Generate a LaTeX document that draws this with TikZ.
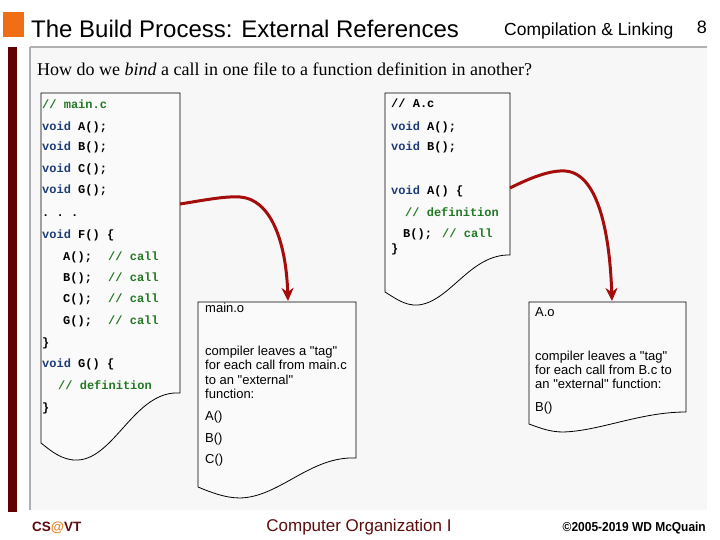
\documentclass[tikz,border=0pt]{standalone}
\usepackage{fontspec}
\setmainfont{Liberation Serif}
\setsansfont{Liberation Sans}[Ligatures=TeXOff]
\setmonofont{Liberation Mono}
\usetikzlibrary{arrows.meta}
\definecolor{orangesq}{RGB}{240,110,20}
\definecolor{maroonbar}{RGB}{96,0,0}
\definecolor{panelgray}{RGB}{176,176,176}
\definecolor{panelbg}{RGB}{247,247,247}
\definecolor{docbg}{RGB}{250,250,250}
\definecolor{arrowred}{RGB}{165,12,12}
\definecolor{kwblue}{RGB}{30,60,120}
\definecolor{cmtgreen}{RGB}{35,120,35}
\definecolor{footred}{RGB}{92,12,12}
\definecolor{atorange}{RGB}{230,130,40}
\newcommand{\kwd}[1]{\textcolor{kwblue}{#1}}
\newcommand{\cmnt}[1]{\textcolor{cmtgreen}{#1}}
\tikzset{
  code/.style={anchor=base west, inner sep=0pt, font=\fontsize{12}{12}\selectfont\ttfamily\bfseries},
  doctext/.style={anchor=base west, inner sep=0pt, font=\fontsize{13}{14.3}\selectfont\sffamily},
  docshape/.style={draw=black, line width=0.8pt, fill=docbg},
  bindarrow/.style={draw=arrowred, line width=3pt, -{Stealth[length=13pt,width=12pt,inset=4pt]}},
}
\begin{document}
\begin{tikzpicture}[x=1pt,y=-1pt]
\useasboundingbox (0,0) rectangle (720,540);
\fill[white] (0,0) rectangle (720,540);
% header
\fill[orangesq] (3,12) rectangle (24,37);
\node[anchor=base west, inner sep=0pt, font=\fontsize{24}{24}\selectfont\sffamily] (title) at (31,38) {The Build Process: External References};
\node[anchor=base west, inner sep=0pt, font=\fontsize{17.5}{17.5}\selectfont\sffamily] (topic) at (504,36) {Compilation \& Linking};
\node[anchor=base east, inner sep=0pt, font=\fontsize{18}{18}\selectfont\sffamily] (pagenum) at (707,34) {8};
% panel
\fill[panelbg] (30,47) rectangle (707,510);
\draw[panelgray, line width=2.5pt] (30,47) -- (707,47);
\draw[panelgray, line width=1.5pt] (30,47) -- (30,510);
\fill[maroonbar] (8,47) rectangle (17,512);
\node[anchor=base west, inner sep=0pt, font=\fontsize{18}{18}\selectfont\rmfamily] (question) at (37,76) {How do we \textit{bind} a call in one file to a function definition in another?};
% documents
\draw[docshape] (41,93) -- (180,93) -- (180,393) .. controls (135,390) and (115,458) .. (78,460) .. controls (62,461) and (50,450) .. (41,443) -- cycle;
\draw[docshape] (385,93) -- (510,93) -- (510,255) .. controls (470,254) and (450,302) .. (418,305) .. controls (405,306) and (395,298) .. (385,292) -- cycle;
\draw[docshape] (198,302) -- (356,302) -- (356,458) .. controls (310,456) and (280,497) .. (240,498) .. controls (225,498) and (210,492) .. (198,487) -- cycle;
\draw[docshape] (529,302) -- (686,302) -- (686,412) .. controls (640,412) and (600,431) .. (563,432) .. controls (550,432) and (540,428) .. (529,424) -- cycle;
% main.c code
\node[code] (mc1) at (42,109) {\cmnt{// main.c}};
\node[code] (mc2) at (42,131) {\kwd{void} A();};
\node[code] (mc3) at (42,151) {\kwd{void} B();};
\node[code] (mc4) at (42,173) {\kwd{void} C();};
\node[code] (mc5) at (42,194) {\kwd{void} G();};
\node[code] (mc6) at (42,216) {. . .};
\node[code] (mc7) at (42,238) {\kwd{void} F() \{};
\node[code] (mc8) at (63,260) {A();};
\node[code] (mc8c) at (108,260) {\cmnt{// call}};
\node[code] (mc9) at (63,281) {B();};
\node[code] (mc9c) at (108,281) {\cmnt{// call}};
\node[code] (mc10) at (63,302) {C();};
\node[code] (mc10c) at (108,302) {\cmnt{// call}};
\node[code] (mc11) at (63,324) {G();};
\node[code] (mc11c) at (108,324) {\cmnt{// call}};
\node[code] (mc12) at (42,346) {\}};
\node[code] (mc13) at (42,367) {\kwd{void} G() \{};
\node[code] (mc14) at (58,389) {\cmnt{// definition}};
\node[code] (mc15) at (42,411) {\}};
% A.c code
\node[code] (ac1) at (391,108) {// A.c};
\node[code] (ac2) at (391,131) {\kwd{void} A();};
\node[code] (ac3) at (391,151) {\kwd{void} B();};
\node[code] (ac4) at (391,195) {\kwd{void} A() \{};
\node[code] (ac5) at (405,216) {\cmnt{// definition}};
\node[code] (ac6) at (403,237) {B();};
\node[code] (ac6c) at (442,237) {\cmnt{// call}};
\node[code] (ac7) at (391,252) {\}};
% main.o text
\node[doctext] (mo1) at (205,312) {main.o};
\node[doctext] (mo2a) at (205,355) {compiler leaves a "tag"};
\node[doctext] (mo2b) at (205,369.5) {for each call from main.c};
\node[doctext] (mo2c) at (205,384) {to an "external"};
\node[doctext] (mo2d) at (205,398) {function:};
\node[doctext] (mo3) at (205,420) {A()};
\node[doctext] (mo4) at (205,442) {B()};
\node[doctext] (mo5) at (205,463) {C()};
% A.o text
\node[doctext] (ao1) at (535,316) {A.o};
\node[doctext] (ao2a) at (535,360) {compiler leaves a "tag"};
\node[doctext] (ao2b) at (535,374) {for each call from B.c to};
\node[doctext] (ao2c) at (535,388) {an "external" function:};
\node[doctext] (ao3) at (535,411) {B()};
% arrows
\coordinate (mcout) at (180,204);
\coordinate (moin) at (288,301);
\coordinate (acout) at (510,188);
\coordinate (aoin) at (612,301);
\draw[bindarrow] (mcout) .. controls (205,200) and (225,196) .. (240,197) .. controls (270,199) and (286,240) .. (moin);
\draw[bindarrow] (acout) .. controls (530,178) and (550,170) .. (565,171) .. controls (600,173) and (610,240) .. (aoin);
% footer
\node[anchor=base west, inner sep=0pt, font=\fontsize{13.5}{13.5}\selectfont\sffamily\bfseries] (csvt) at (32,531) {\textcolor{footred}{CS}\textcolor{atorange}{@}\textcolor{footred}{VT}};
\node[anchor=base, inner sep=0pt, font=\fontsize{17}{17}\selectfont\sffamily, text=footred] (course) at (359,531) {Computer Organization I};
\node[anchor=base east, inner sep=0pt, font=\fontsize{13}{13}\selectfont\sffamily\bfseries, xscale=0.92] (copy) at (706,531) {©2005-2019 WD McQuain};
\end{tikzpicture}
\end{document}
